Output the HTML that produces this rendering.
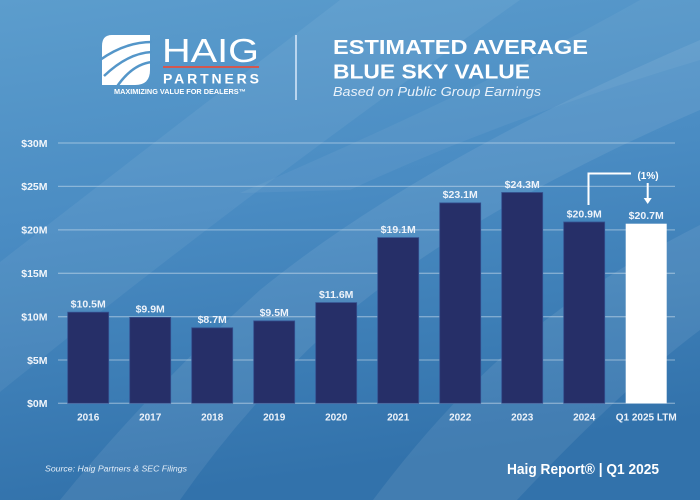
<!DOCTYPE html>
<html><head><meta charset="utf-8"><style>
html,body{margin:0;padding:0;width:700px;height:500px;overflow:hidden;background:#4a8bc0}
svg{display:block}
text{font-family:"Liberation Sans",Arial,sans-serif}
</style></head><body>
<svg width="700" height="500" viewBox="0 0 700 500" xmlns="http://www.w3.org/2000/svg">
<defs>
<linearGradient id="bg" x1="0" y1="0" x2="0.2" y2="1">
<stop offset="0" stop-color="#5c9dcd"/>
<stop offset="0.45" stop-color="#4a8cc3"/>
<stop offset="1" stop-color="#3272ab"/>
</linearGradient>
</defs>
<rect width="700" height="500" fill="url(#bg)"/>
<!-- subtle diagonal bands -->
<path d="M0,262 Q170,130 340,0 L520,0 Q250,190 0,392 Z" fill="#ffffff" opacity="0.06"/>
<path d="M60,500 Q150,390 260,290 Q420,160 700,40 L700,110 Q470,210 340,320 Q250,400 180,500 Z" fill="#ffffff" opacity="0.08"/>
<path d="M373,500 Q470,370 580,295 Q640,255 700,225 L700,330 Q620,390 517,500 Z" fill="#ffffff" opacity="0.08"/>
<path d="M350,190 Q500,120 700,60 L700,0 L640,0 Q480,90 240,193 Z" fill="#ffffff" opacity="0.05"/>

<!-- logo icon -->
<g>
<path d="M112,35 L150,35 L150,70 Q150,85 135,85 L102,85 L102,46 Q102,35 112,35 Z" fill="#ffffff"/>
<path d="M100,60 Q125,42 152,42" stroke="#5496c9" stroke-width="2.5" fill="none"/>
<path d="M104,76 Q128,53 152,52" stroke="#5496c9" stroke-width="2.5" fill="none"/>
<path d="M116,88 Q132,64 152,62" stroke="#5496c9" stroke-width="2.5" fill="none"/>
</g>
<text x="162" y="62" font-size="33" fill="#ffffff" textLength="97" lengthAdjust="spacingAndGlyphs">HAIG</text>
<rect x="163" y="66" width="96" height="2" fill="#d4574f"/>
<text x="163" y="83.5" font-size="14" font-weight="bold" fill="#ffffff" textLength="96" lengthAdjust="spacing">PARTNERS</text>
<text x="114" y="94" font-size="7" font-weight="bold" fill="#ffffff" textLength="132" lengthAdjust="spacingAndGlyphs">MAXIMIZING VALUE FOR DEALERS™</text>
<rect x="295" y="35" width="2" height="65" fill="#b9d5ef"/>

<!-- title -->
<text x="333" y="54" font-size="20.5" font-weight="bold" fill="#ffffff" textLength="255" lengthAdjust="spacingAndGlyphs">ESTIMATED AVERAGE</text>
<text x="333" y="78.5" font-size="20.5" font-weight="bold" fill="#ffffff" textLength="197" lengthAdjust="spacingAndGlyphs">BLUE SKY VALUE</text>
<text x="333" y="96" font-size="12.5" font-style="italic" fill="#eaf2fa" textLength="208" lengthAdjust="spacingAndGlyphs">Based on Public Group Earnings</text>

<!-- gridlines -->
<g stroke="#ffffff" stroke-opacity="0.35" stroke-width="1.3">
<line x1="58" y1="143" x2="675" y2="143"/>
<line x1="58" y1="186.4" x2="675" y2="186.4"/>
<line x1="58" y1="229.9" x2="675" y2="229.9"/>
<line x1="58" y1="273.3" x2="675" y2="273.3"/>
<line x1="58" y1="316.7" x2="675" y2="316.7"/>
<line x1="58" y1="360" x2="675" y2="360"/>
<line x1="58" y1="403.3" x2="675" y2="403.3"/>
</g>
<g font-size="10.5" font-weight="bold" fill="#f2f6fb" text-anchor="end">
<text x="47.5" y="146.8">$30M</text>
<text x="47.5" y="190.2">$25M</text>
<text x="47.5" y="233.7">$20M</text>
<text x="47.5" y="277.1">$15M</text>
<text x="47.5" y="320.5">$10M</text>
<text x="47.5" y="363.8">$5M</text>
<text x="47.5" y="407.1">$0M</text>
</g>

<!-- bars -->
<g fill="#262f68" stroke="#34508f" stroke-width="0.8">
<rect x="67.7" y="312.2" width="41" height="91.1"/>
<rect x="129.7" y="317.4" width="41" height="85.9"/>
<rect x="191.7" y="327.8" width="41" height="75.5"/>
<rect x="253.7" y="320.9" width="41" height="82.4"/>
<rect x="315.7" y="302.6" width="41" height="100.7"/>
<rect x="377.7" y="237.6" width="41" height="165.7"/>
<rect x="439.7" y="202.9" width="41" height="200.4"/>
<rect x="501.7" y="192.5" width="41" height="210.8"/>
<rect x="563.7" y="222.0" width="41" height="181.3"/>
</g>
<rect x="625.7" y="223.7" width="41" height="179.6" fill="#ffffff"/>

<!-- value labels -->
<g font-size="10.5" font-weight="bold" fill="#eef3fa" text-anchor="middle">
<text x="88.2" y="307.5">$10.5M</text>
<text x="150.2" y="312.7">$9.9M</text>
<text x="212.2" y="323.1">$8.7M</text>
<text x="274.2" y="316.2">$9.5M</text>
<text x="336.2" y="297.9">$11.6M</text>
<text x="398.2" y="232.9">$19.1M</text>
<text x="460.2" y="198.2">$23.1M</text>
<text x="522.2" y="187.8">$24.3M</text>
<text x="584.2" y="217.3">$20.9M</text>
<text x="646.2" y="219.0">$20.7M</text>
</g>

<!-- annotation -->
<path d="M588.5,205 L588.5,173.5 L631,173.5" stroke="#ffffff" stroke-width="2" fill="none"/>
<line x1="647.7" y1="183" x2="647.7" y2="199" stroke="#ffffff" stroke-width="2"/>
<path d="M643.7,198 L651.7,198 L647.7,204 Z" fill="#ffffff"/>
<text x="648" y="179" font-size="10" font-weight="bold" fill="#ffffff" text-anchor="middle">(1%)</text>

<!-- x labels -->
<g font-size="10" font-weight="bold" fill="#eef3fa" text-anchor="middle">
<text x="88.2" y="420.5">2016</text>
<text x="150.2" y="420.5">2017</text>
<text x="212.2" y="420.5">2018</text>
<text x="274.2" y="420.5">2019</text>
<text x="336.2" y="420.5">2020</text>
<text x="398.2" y="420.5">2021</text>
<text x="460.2" y="420.5">2022</text>
<text x="522.2" y="420.5">2023</text>
<text x="584.2" y="420.5">2024</text>
<text x="646.2" y="420.5">Q1 2025 LTM</text>
</g>

<!-- footer -->
<text x="45" y="471.5" font-size="8" font-style="italic" fill="#e4eef8" textLength="142" lengthAdjust="spacingAndGlyphs">Source: Haig Partners &amp; SEC Filings</text>
<text x="507" y="474" font-size="15" font-weight="bold" fill="#ffffff" textLength="152" lengthAdjust="spacingAndGlyphs">Haig Report® | Q1 2025</text>
</svg>
</body></html>
